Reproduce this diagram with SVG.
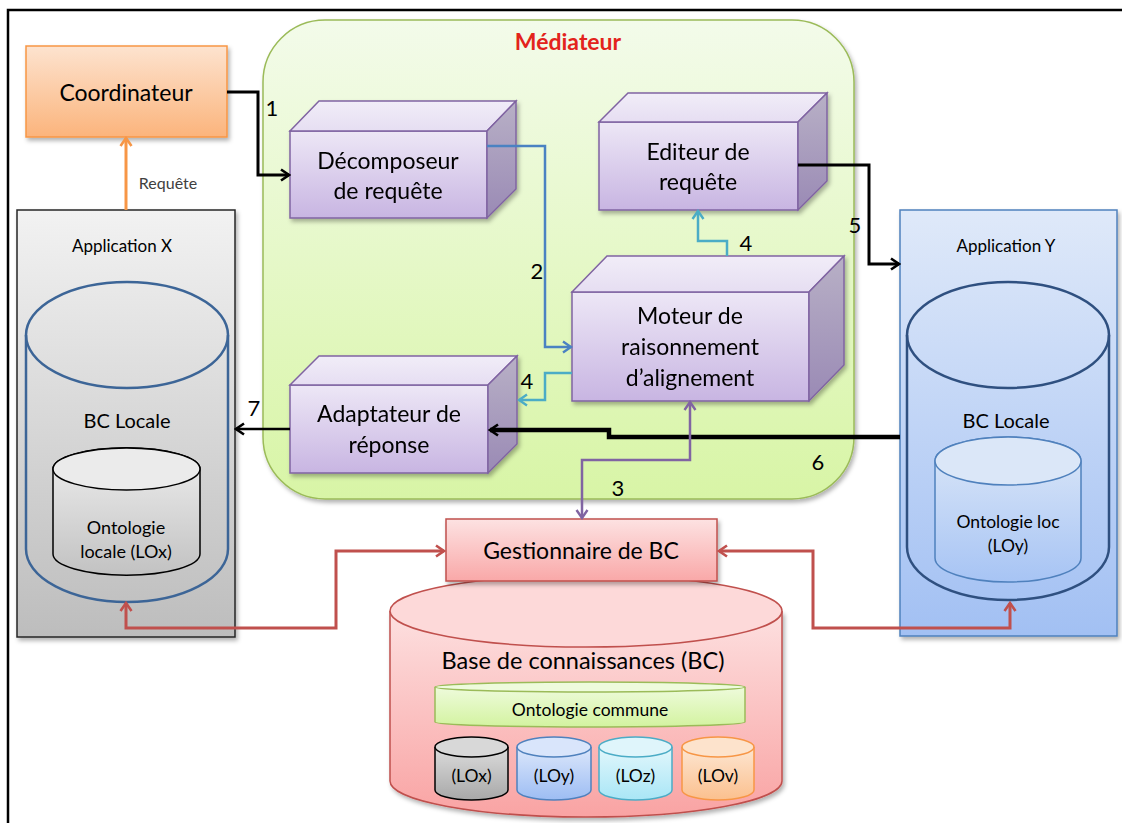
<svg xmlns="http://www.w3.org/2000/svg" width="1122" height="823" viewBox="0 0 1122 823">
<style>
text{font-family:Lato,"Liberation Sans",sans-serif;fill:#000;text-anchor:middle}
.t20{font-size:23px}
.num{font-size:22px}
.box{stroke:#8064a2;stroke-width:1.5}
.conn{fill:none;stroke-linejoin:miter}
</style>
<defs>
<filter id="sh" x="-10%" y="-10%" width="125%" height="125%"><feDropShadow dx="2" dy="3" stdDeviation="2" flood-color="#000" flood-opacity="0.3"/></filter>
<linearGradient id="gMed" x1="0" y1="0" x2="0" y2="1"><stop offset="0" stop-color="#f3fbea"/><stop offset="1" stop-color="#d8f5a6"/></linearGradient>
<linearGradient id="gCoord" x1="0" y1="0" x2="0" y2="1"><stop offset="0" stop-color="#fde3cf"/><stop offset="1" stop-color="#fbb47c"/></linearGradient>
<linearGradient id="gFront" x1="0" y1="0" x2="0" y2="1"><stop offset="0" stop-color="#ede7f6"/><stop offset="1" stop-color="#c8b5e2"/></linearGradient>
<linearGradient id="gTop" x1="0" y1="0" x2="0" y2="1"><stop offset="0" stop-color="#f1edf8"/><stop offset="1" stop-color="#e6def2"/></linearGradient>
<linearGradient id="gSide" x1="0" y1="0" x2="0" y2="1"><stop offset="0" stop-color="#b8b0c6"/><stop offset="1" stop-color="#9a8ab5"/></linearGradient>
<linearGradient id="gAppX" x1="0" y1="0" x2="0" y2="1"><stop offset="0" stop-color="#f2f2f2"/><stop offset="1" stop-color="#bdbdbd"/></linearGradient>
<linearGradient id="gAppY" x1="0" y1="0" x2="0" y2="1"><stop offset="0" stop-color="#dfe9f9"/><stop offset="1" stop-color="#a2c0f3"/></linearGradient>
<linearGradient id="gCylX" x1="0" y1="0" x2="0" y2="1"><stop offset="0" stop-color="#eeeeee"/><stop offset="1" stop-color="#c2c2c2"/></linearGradient>
<linearGradient id="gCylY" x1="0" y1="0" x2="0" y2="1"><stop offset="0" stop-color="#dde8f8"/><stop offset="1" stop-color="#a7c4f4"/></linearGradient>
<linearGradient id="gGest" x1="0" y1="0" x2="0" y2="1"><stop offset="0" stop-color="#fde2e2"/><stop offset="1" stop-color="#f9a8a8"/></linearGradient>
<linearGradient id="gBC" x1="0" y1="0" x2="0" y2="1"><stop offset="0" stop-color="#fde0e0"/><stop offset="1" stop-color="#f9a3a3"/></linearGradient>
<linearGradient id="gOnt" x1="0" y1="0" x2="0" y2="1"><stop offset="0" stop-color="#eefbdc"/><stop offset="1" stop-color="#d3f3a0"/></linearGradient>
<linearGradient id="gLx" x1="0" y1="0" x2="0" y2="1"><stop offset="0" stop-color="#dcdcdc"/><stop offset="1" stop-color="#a8a8a8"/></linearGradient>
<linearGradient id="gLy" x1="0" y1="0" x2="0" y2="1"><stop offset="0" stop-color="#dce7fb"/><stop offset="1" stop-color="#9dbdf3"/></linearGradient>
<linearGradient id="gLz" x1="0" y1="0" x2="0" y2="1"><stop offset="0" stop-color="#e2f7fc"/><stop offset="1" stop-color="#a9e6f6"/></linearGradient>
<linearGradient id="gLv" x1="0" y1="0" x2="0" y2="1"><stop offset="0" stop-color="#fde6d2"/><stop offset="1" stop-color="#fbc08e"/></linearGradient>
<marker id="aBlack" markerUnits="userSpaceOnUse" markerWidth="14" markerHeight="14" viewBox="0 0 14 14" refX="12" refY="7" orient="auto-start-reverse"><path d="M4,1.5 L12,7 L4,12.5" fill="none" stroke="#000" stroke-width="2.6"/></marker>
<marker id="aBlue" markerUnits="userSpaceOnUse" markerWidth="14" markerHeight="14" viewBox="0 0 14 14" refX="12" refY="7" orient="auto-start-reverse"><path d="M4,1.5 L12,7 L4,12.5" fill="none" stroke="#4a82c2" stroke-width="2.4"/></marker>
<marker id="aTeal" markerUnits="userSpaceOnUse" markerWidth="14" markerHeight="14" viewBox="0 0 14 14" refX="12" refY="7" orient="auto-start-reverse"><path d="M4,1.5 L12,7 L4,12.5" fill="none" stroke="#4bacc6" stroke-width="2.4"/></marker>
<marker id="aPurple" markerUnits="userSpaceOnUse" markerWidth="14" markerHeight="14" viewBox="0 0 14 14" refX="12" refY="7" orient="auto-start-reverse"><path d="M4,1.5 L12,7 L4,12.5" fill="none" stroke="#8064a2" stroke-width="2.4"/></marker>
<marker id="aRed" markerUnits="userSpaceOnUse" markerWidth="14" markerHeight="14" viewBox="0 0 14 14" refX="12" refY="7" orient="auto-start-reverse"><path d="M4,1.5 L12,7 L4,12.5" fill="none" stroke="#c0504d" stroke-width="2.6"/></marker>
<marker id="aOrange" markerUnits="userSpaceOnUse" markerWidth="14" markerHeight="14" viewBox="0 0 14 14" refX="12" refY="7" orient="auto-start-reverse"><path d="M4,1.5 L12,7 L4,12.5" fill="none" stroke="#f79646" stroke-width="2.6"/></marker>
</defs>
<rect x="0" y="0" width="1122" height="823" fill="#fff"/>
<rect id="frame" x="8" y="10" width="1125" height="830" fill="none" stroke="#000" stroke-width="2.5"/>

<g id="mediateur">
<rect x="263" y="20" width="591" height="479" rx="62" ry="62" fill="url(#gMed)" stroke="#9bbb59" stroke-width="1.5" filter="url(#sh)"/>
<text x="568" y="50" style="font-size:23px;font-weight:bold;fill:#e3231c">Médiateur</text>
</g>

<g id="coordinateur">
<rect x="26" y="46" width="201" height="91" fill="url(#gCoord)" stroke="#f79646" stroke-width="1.5" filter="url(#sh)"/>
<text class="t20" x="126" y="101">Coordinateur</text>
</g>

<g id="appX">
<rect x="17" y="210" width="218" height="427" fill="url(#gAppX)" stroke="#262626" stroke-width="1.5" filter="url(#sh)"/>
<text x="122" y="252" style="font-size:17px">Application X</text>
<path d="M26,335 L26,549 A101,53 0 0 0 228,549 L228,335" fill="none" stroke="#3c6597" stroke-width="2.5"/>
<ellipse cx="127" cy="335" rx="101" ry="53" fill="none" stroke="#3c6597" stroke-width="2.5"/>
<text x="127" y="428" style="font-size:20px">BC Locale</text>
<path d="M53,469 L53,554 A73,21 0 0 0 200,554 L200,469 A73,21 0 0 0 53,469 Z" fill="url(#gCylX)" stroke="#000" stroke-width="1.5"/>
<ellipse cx="126.5" cy="469" rx="73.5" ry="21" fill="#ebebeb" stroke="#000" stroke-width="1.5"/>
<text x="126" y="534" style="font-size:18px">Ontologie</text>
<text x="126" y="558" style="font-size:18px">locale (LOx)</text>
</g>

<g id="appY">
<rect x="900" y="210" width="217" height="426" fill="url(#gAppY)" stroke="#4f81bd" stroke-width="1.5" filter="url(#sh)"/>
<text x="1006" y="252" style="font-size:17px">Application Y</text>
<path d="M907,335 L907,547 A101,53 0 0 0 1109,547 L1109,335" fill="none" stroke="#2f5080" stroke-width="2.5"/>
<ellipse cx="1008" cy="335" rx="101" ry="53" fill="none" stroke="#2f5080" stroke-width="2.5"/>
<text x="1006" y="428" style="font-size:20px">BC Locale</text>
<path d="M935,461 L935,558 A73,24 0 0 0 1081,558 L1081,461 A73,24 0 0 0 935,461 Z" fill="url(#gCylY)" stroke="#4f81bd" stroke-width="1.5"/>
<ellipse cx="1008" cy="461" rx="73" ry="24" fill="#dbe7f8" stroke="#4f81bd" stroke-width="1.5"/>
<text x="1008" y="528" style="font-size:17.5px">Ontologie loc</text>
<text x="1008" y="552" style="font-size:17.5px">(LOy)</text>
</g>

<g id="decomposeur" filter="url(#sh)">
<rect class="box" x="290" y="131" width="197" height="87" fill="url(#gFront)"/>
<polygon class="box" points="290,131 319,101 516,101 487,131" fill="url(#gTop)"/>
<polygon class="box" points="487,131 516,101 516,189 487,218" fill="url(#gSide)"/>
<text class="t20" x="388" y="169">Décomposeur</text>
<text class="t20" x="388" y="199">de requête</text>
</g>

<g id="editeur" filter="url(#sh)">
<rect class="box" x="599" y="122" width="199" height="88" fill="url(#gFront)"/>
<polygon class="box" points="599,122 628,93 827,93 798,122" fill="url(#gTop)"/>
<polygon class="box" points="798,122 827,93 827,181 798,210" fill="url(#gSide)"/>
<text class="t20" x="698" y="160">Editeur de</text>
<text class="t20" x="698" y="190">requête</text>
</g>

<g id="moteur" filter="url(#sh)">
<rect class="box" x="572" y="292" width="237" height="109" fill="url(#gFront)"/>
<polygon class="box" points="572,292 607,256 844,256 809,292" fill="url(#gTop)"/>
<polygon class="box" points="809,292 844,256 844,365 809,401" fill="url(#gSide)"/>
<text class="t20" x="690" y="324">Moteur de</text>
<text class="t20" x="690" y="355">raisonnement</text>
<text class="t20" x="690" y="386">d’alignement</text>
</g>

<g id="adaptateur" filter="url(#sh)">
<rect class="box" x="290" y="385" width="198" height="88" fill="url(#gFront)"/>
<polygon class="box" points="290,385 319,356 517,356 488,385" fill="url(#gTop)"/>
<polygon class="box" points="488,385 517,356 517,444 488,473" fill="url(#gSide)"/>
<text class="t20" x="389" y="422">Adaptateur de</text>
<text class="t20" x="389" y="453">réponse</text>
</g>

<g id="baseBC">
<path d="M390,611 L390,781 A196,36 0 0 0 782,781 L782,611" fill="url(#gBC)" stroke="#c0504d" stroke-width="1.5" filter="url(#sh)"/>
<ellipse cx="586" cy="611" rx="196" ry="36" fill="#fdd9d9" stroke="#c0504d" stroke-width="1.5"/>
<text x="583" y="669" style="font-size:23.5px">Base de connaissances (BC)</text>
<g id="ontCommune">
<path d="M435,687 L435,722 A155,5 0 0 0 745,722 L745,687" fill="url(#gOnt)" stroke="#9bbb59" stroke-width="1.5"/>
<ellipse cx="590" cy="687" rx="155" ry="5" fill="#eefbdc" stroke="#9bbb59" stroke-width="1.5"/>
<text x="590" y="716" style="font-size:17.5px">Ontologie commune</text>
</g>
<g id="lox">
<path d="M435,747 L435,790 A36.5,10 0 0 0 508,790 L508,747" fill="url(#gLx)" stroke="#000" stroke-width="1.5"/>
<ellipse cx="471.5" cy="747" rx="36.5" ry="10" fill="#d8d8d8" stroke="#000" stroke-width="1.5"/>
<text x="471.5" y="782" style="font-size:17.5px">(LOx)</text>
</g>
<g id="loy">
<path d="M517,747 L517,790 A37,10 0 0 0 591,790 L591,747" fill="url(#gLy)" stroke="#4f81bd" stroke-width="1.5"/>
<ellipse cx="554" cy="747" rx="37" ry="10" fill="#d9e5fb" stroke="#4f81bd" stroke-width="1.5"/>
<text x="554" y="782" style="font-size:17.5px">(LOy)</text>
</g>
<g id="loz">
<path d="M599,747 L599,790 A36.5,10 0 0 0 672,790 L672,747" fill="url(#gLz)" stroke="#4bacc6" stroke-width="1.5"/>
<ellipse cx="635.5" cy="747" rx="36.5" ry="10" fill="#dff5fb" stroke="#4bacc6" stroke-width="1.5"/>
<text x="635.5" y="782" style="font-size:17.5px">(LOz)</text>
</g>
<g id="lov">
<path d="M682,747 L682,790 A36,10 0 0 0 754,790 L754,747" fill="url(#gLv)" stroke="#f79646" stroke-width="1.5"/>
<ellipse cx="718" cy="747" rx="36" ry="10" fill="#fde3cc" stroke="#f79646" stroke-width="1.5"/>
<text x="718" y="782" style="font-size:17.5px">(LOv)</text>
</g>
</g>

<g id="gestionnaire">
<rect x="446" y="519" width="271" height="62" fill="url(#gGest)" stroke="#c0504d" stroke-width="1.5" filter="url(#sh)"/>
<text class="t20" x="581" y="559">Gestionnaire de BC</text>
</g>

<g id="connectors">
<path class="conn" d="M126,210 L126,138" stroke="#f79646" stroke-width="3" marker-end="url(#aOrange)"/>
<path class="conn" d="M227,92 L258,92 L258,175 L289,175" stroke="#000" stroke-width="3" marker-end="url(#aBlack)"/>
<path class="conn" d="M487,146 L545,146 L545,347 L571,347" stroke="#4a82c2" stroke-width="2.5" marker-end="url(#aBlue)"/>
<path class="conn" d="M727,256 L727,241 L698,241 L698,211" stroke="#4bacc6" stroke-width="2.5" marker-end="url(#aTeal)"/>
<path class="conn" d="M572,373 L545,373 L545,400 L519,400" stroke="#4bacc6" stroke-width="2.5" marker-end="url(#aTeal)"/>
<path class="conn" d="M798,165 L869,165 L869,264 L899,264" stroke="#000" stroke-width="3" marker-end="url(#aBlack)"/>
<path class="conn" d="M900,437 L609,437 L609,430 L490,430" stroke="#000" stroke-width="4.5" marker-end="url(#aBlack)"/>
<path class="conn" d="M290,429 L236,429" stroke="#000" stroke-width="2.5" marker-end="url(#aBlack)"/>
<path class="conn" d="M690,402 L690,460 L582,460 L582,518" stroke="#8064a2" stroke-width="2.5" marker-start="url(#aPurple)" marker-end="url(#aPurple)"/>
<path class="conn" d="M126,603 L126,628 L336,628 L336,551 L444,551" stroke="#c0504d" stroke-width="3" marker-start="url(#aRed)" marker-end="url(#aRed)"/>
<path class="conn" d="M719,551 L813,551 L813,628 L1010,628 L1010,603" stroke="#c0504d" stroke-width="3" marker-start="url(#aRed)" marker-end="url(#aRed)"/>
<text x="168" y="189" style="font-size:16px;fill:#404040">Requête</text>
<text class="num" x="272" y="116">1</text>
<text class="num" x="537" y="279">2</text>
<text class="num" x="618" y="496">3</text>
<text class="num" x="746" y="251">4</text>
<text class="num" x="527" y="389">4</text>
<text class="num" x="855" y="233">5</text>
<text class="num" x="818" y="470">6</text>
<text class="num" x="254" y="416">7</text>
</g>
</svg>
